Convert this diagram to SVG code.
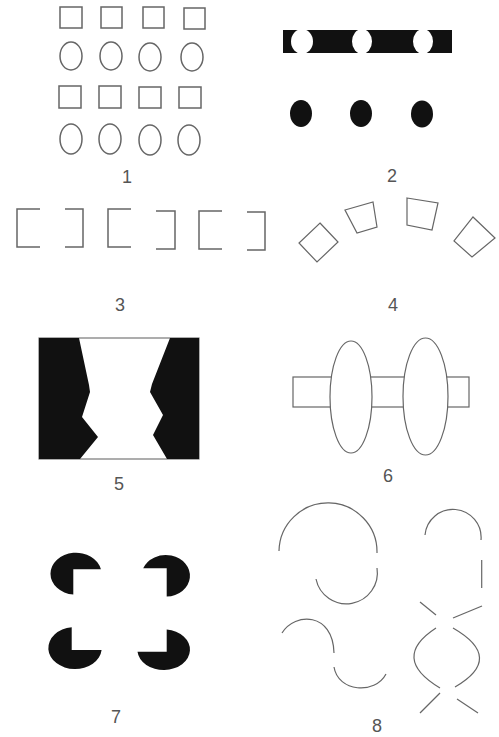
<svg xmlns="http://www.w3.org/2000/svg" width="499" height="737" viewBox="0 0 499 737">
<style>
.ln{fill:none;stroke:#666;stroke-width:1.5}
.th{fill:none;stroke:#666;stroke-width:1.2}
.blk{fill:#111;stroke:none}
.lbl{font-family:"Liberation Sans",Arial,sans-serif;font-size:18px;fill:#555;text-anchor:middle}
</style>
<rect width="499" height="737" fill="#fff"/>
<g id="panel1">
<rect class="ln" x="60" y="7" width="22" height="21"/>
<rect class="ln" x="101" y="7" width="21" height="21"/>
<rect class="ln" x="143" y="7" width="21" height="21"/>
<rect class="ln" x="184" y="8" width="21" height="21"/>
<ellipse class="ln" cx="71" cy="56" rx="11" ry="14"/>
<ellipse class="ln" cx="111" cy="56" rx="11" ry="14"/>
<ellipse class="ln" cx="150" cy="57" rx="11" ry="14"/>
<ellipse class="ln" cx="192" cy="57" rx="11" ry="14"/>
<rect class="ln" x="59" y="86" width="22" height="22"/>
<rect class="ln" x="99" y="86" width="22" height="22"/>
<rect class="ln" x="139" y="87" width="22" height="21"/>
<rect class="ln" x="179" y="87" width="22" height="21"/>
<ellipse class="ln" cx="71" cy="139" rx="11" ry="15"/>
<ellipse class="ln" cx="110" cy="139" rx="11" ry="15"/>
<ellipse class="ln" cx="150" cy="140" rx="11" ry="15"/>
<ellipse class="ln" cx="189" cy="140" rx="11" ry="15"/>
<text class="lbl" x="127" y="183">1</text>
</g>
<g id="panel2">
<rect class="blk" x="283" y="30" width="169" height="23"/>
<ellipse cx="302" cy="41.5" rx="11" ry="12.5" fill="#fff"/>
<ellipse cx="362" cy="41.5" rx="10" ry="12.5" fill="#fff"/>
<ellipse cx="423" cy="41.5" rx="10" ry="12.5" fill="#fff"/>
<ellipse class="blk" cx="301" cy="113.5" rx="11" ry="13.5"/>
<ellipse class="blk" cx="361" cy="113.5" rx="11" ry="13.5"/>
<ellipse class="blk" cx="422" cy="114" rx="11" ry="13.5"/>
<text class="lbl" x="392" y="182">2</text>
</g>
<g id="panel3">
<polyline class="ln" points="40,209 17,209 17,247 40,247"/>
<polyline class="ln" points="65,209 83,209 83,247 65,247"/>
<polyline class="ln" points="131,209 108,209 108,247 131,247"/>
<polyline class="ln" points="156,211 175,211 175,249 156,249"/>
<polyline class="ln" points="222,211 199,211 199,249 222,249"/>
<polyline class="ln" points="247,212 265,212 265,250 247,250"/>
<text class="lbl" x="120" y="311">3</text>
</g>
<g id="panel4">
<polygon class="th" points="320,223 338,242 317,262 299,243"/>
<polygon class="th" points="345,210 373,202 377,227 357,233"/>
<polygon class="th" points="407,198 438,203 432,230 407,225"/>
<polygon class="th" points="473,217 495,238 472,257 454,241"/>
<text class="lbl" x="393" y="311">4</text>
</g>
<g id="panel5">
<rect x="39" y="338" width="160" height="121" fill="#fff" stroke="#777" stroke-width="1.2"/>
<polygon class="blk" points="39,338 79,338 89,385 90,392 82,417 98,437 80,459 39,459"/>
<polygon class="blk" points="199,338 170,338 152,384 150,392 163,415 153,435 167,459 199,459"/>
<text class="lbl" x="119" y="490">5</text>
</g>
<g id="panel6">
<rect class="th" x="293" y="377" width="176" height="30"/>
<ellipse cx="351" cy="397" rx="21" ry="56" fill="#fff" stroke="#666" stroke-width="1.2"/>
<ellipse cx="425.5" cy="396.5" rx="22.5" ry="58.5" fill="#fff" stroke="#666" stroke-width="1.2"/>
<text class="lbl" x="388" y="482">6</text>
</g>
<g id="panel7">
<path class="blk" d="M73.3,569.3 L100.9,569.3 A25.5,21 0 1 0 73.3,594.6 Z"/>
<path class="blk" d="M166.7,568.3 L143.2,568.3 A24.2,20.8 0 1 1 166.7,596.6 Z"/>
<path class="blk" d="M71.7,650 L71.7,627.2 A26.7,21 0 1 0 101.6,650 Z"/>
<path class="blk" d="M166.7,651.7 L166.7,629.5 A26.3,20.3 0 1 1 137.5,651.7 Z"/>
<text class="lbl" x="116" y="723">7</text>
</g>
<g id="panel8">
<path class="th" d="M279,551 A49,49 0 1 1 377,553"/>
<path class="th" d="M377,568 A31,31 0 0 1 316,579"/>
<path class="th" d="M425,535 A28,28 0 0 1 481,540"/>
<line class="th" x1="481.7" y1="560" x2="481.7" y2="588"/>
<line class="th" x1="420" y1="602" x2="436" y2="615"/>
<line class="th" x1="453" y1="618" x2="482" y2="606"/>
<path class="th" d="M436,628 Q390,658 440,688"/>
<path class="th" d="M453,628 Q505,658 455,687"/>
<line class="th" x1="440" y1="693" x2="420" y2="713"/>
<line class="th" x1="457" y1="699" x2="478" y2="713"/>
<path class="th" d="M282,633 C295,612 333,612 334,653"/>
<path class="th" d="M334,667 C338,692 375,695 386,674"/>
<text class="lbl" x="377" y="732">8</text>
</g>
</svg>
